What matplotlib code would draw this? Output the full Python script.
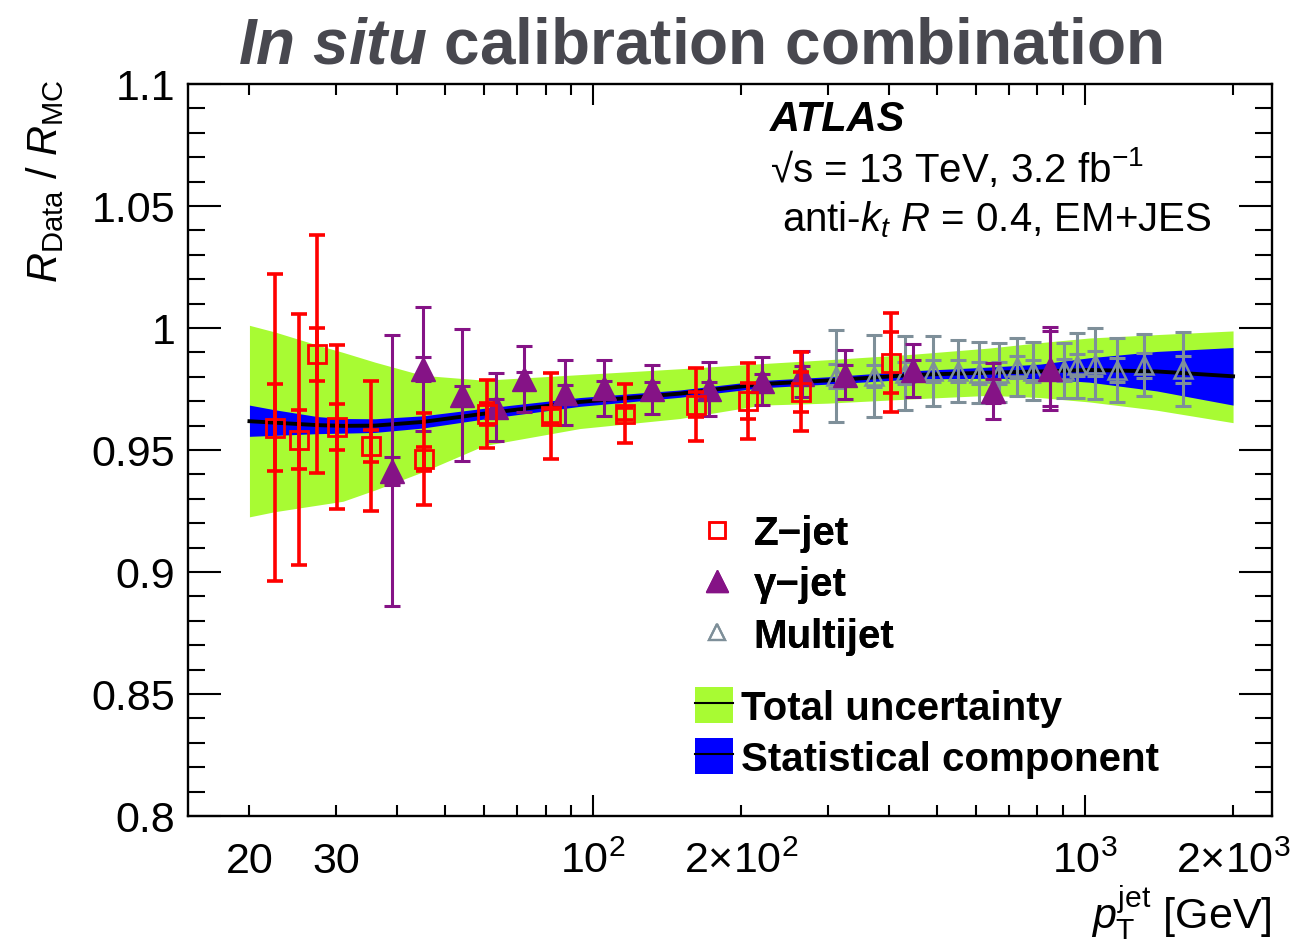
import matplotlib
matplotlib.use("Agg")
import matplotlib.pyplot as plt
import matplotlib.patches as mpatches
from matplotlib.lines import Line2D
from matplotlib.ticker import FixedLocator, FixedFormatter

plt.rcParams['font.family'] = ['Liberation Sans', 'DejaVu Sans']
plt.rcParams['mathtext.fontset'] = 'custom'
plt.rcParams['mathtext.rm'] = 'Liberation Sans'
plt.rcParams['mathtext.it'] = 'Liberation Sans:italic'
plt.rcParams['mathtext.bf'] = 'Liberation Sans:bold'
plt.rcParams['mathtext.bfit'] = 'Liberation Sans:italic:bold'
plt.rcParams['mathtext.sf'] = 'Liberation Sans'

# ---------------- data ----------------
# combined calibration band (knots)
band_pt = [20, 22.5, 27.5, 31, 36, 45, 60, 94, 150, 220, 300, 450, 640, 810, 1020, 1400, 2000]
band_central = [0.9618, 0.9612, 0.9602, 0.9599, 0.9600, 0.9615, 0.9649, 0.9697, 0.9731, 0.9770,
                0.9785, 0.9808, 0.9817, 0.9822, 0.9828, 0.9822, 0.9802]
total_hi = [1.0011, 0.9984, 0.9930, 0.9900, 0.9860, 0.9806, 0.9786, 0.9809, 0.9833, 0.9854,
            0.9870, 0.9893, 0.9918, 0.9940, 0.9959, 0.9973, 0.9988]
total_lo = [0.9226, 0.9247, 0.9274, 0.9290, 0.9336, 0.9410, 0.9518, 0.9588, 0.9629, 0.9684,
            0.9692, 0.9710, 0.9724, 0.9715, 0.9697, 0.9663, 0.9612]
stat_hi = [0.9684, 0.9665, 0.9637, 0.9629, 0.9628, 0.9640, 0.9671, 0.9715, 0.9746, 0.9785,
           0.9800, 0.9825, 0.9840, 0.9852, 0.9878, 0.9904, 0.9920]
stat_lo = [0.9556, 0.9560, 0.9567, 0.9569, 0.9572, 0.9590, 0.9627, 0.9679, 0.9716, 0.9755,
           0.9770, 0.9791, 0.9794, 0.9792, 0.9778, 0.9742, 0.9684]

# Z-jet
zjet_pt = [22.5, 25.2, 27.5, 30.1, 35.3, 45.3, 60.9, 82.2, 115.8, 161.6, 206.5, 264.2, 403.6]
zjet_val = [0.9592, 0.9543, 0.9892, 0.9594, 0.9516, 0.9462, 0.9649, 0.9640, 0.9649, 0.9686,
            0.9701, 0.9738, 0.9858]
zjet_stat = [0.0177, 0.0120, 0.0110, 0.0093, 0.0064, 0.0049, 0.0045, 0.0030, 0.0025, 0.0050,
             0.0072, 0.0083, 0.0125]
zjet_tot = [0.0630, 0.0515, 0.0488, 0.0336, 0.0266, 0.0188, 0.0139, 0.0176, 0.0122, 0.0149,
            0.0157, 0.0162, 0.0203]

# gamma-jet
gjet_pt = [38.9, 45.1, 54.2, 63.5, 72.4, 87.5, 105.4, 131.5, 171.9, 220.4, 266.2, 324.4,
           447.7, 648.9, 849.0]
gjet_val = [0.9415, 0.9833, 0.9724, 0.9677, 0.9790, 0.9735, 0.9754, 0.9749, 0.9749, 0.9782,
            0.9813, 0.9809, 0.9827, 0.9741, 0.9833]
gjet_stat = [0.0057, 0.0050, 0.0040, 0.0030, 0.0030, 0.0030, 0.0030, 0.0030, 0.0030, 0.0030,
             0.0030, 0.0040, 0.0040, 0.0050, 0.0154]
gjet_tot = [0.0556, 0.0254, 0.0271, 0.0140, 0.0135, 0.0134, 0.0114, 0.0100, 0.0110, 0.0099,
            0.0094, 0.0102, 0.0109, 0.0115, 0.0171]

# multijet
mjet_pt = [311, 371.5, 431.5, 489.8, 550.8, 609.7, 667, 729, 785, 905, 964, 1048, 1163, 1317, 1580]
mjet_val = [0.9804, 0.9804, 0.9817, 0.9823, 0.9823, 0.9817, 0.9817, 0.9840, 0.9824, 0.9827,
            0.9847, 0.9854, 0.9827, 0.9847, 0.9831]
mjet_stat = [0.0050, 0.0045, 0.0045, 0.0045, 0.0045, 0.0045, 0.0045, 0.0045, 0.0045, 0.0045,
             0.0045, 0.0050, 0.0050, 0.0050, 0.0055]
mjet_tot = [0.0189, 0.0168, 0.0152, 0.0143, 0.0128, 0.0124, 0.0120, 0.0120, 0.0120, 0.0113,
            0.0132, 0.0147, 0.0130, 0.0127, 0.0151]

y_ticks = [0.8, 0.85, 0.9, 0.95, 1.0, 1.05, 1.1]
y_ticklabels = ["0.8", "0.85", "0.9", "0.95", "1", "1.05", "1.1"]
x_major = [100, 1000]
x_major_labels = [r"$10^{2}$", r"$10^{3}$"]
x_minor = [20, 30, 40, 50, 60, 70, 80, 90, 200, 300, 400, 500, 600, 700, 800, 900, 2000]
x_minor_labels = ["20", "30", "", "", "", "", "", "", r"$2{\times}10^{2}$", "", "", "", "", "",
                  "", "", r"$2{\times}10^{3}$"]

# ---------------- style ----------------
C_GREEN = '#a8fb33'
C_BLUE = '#0000ff'
C_RED = '#ff0000'
C_PURPLE = '#851386'
C_GRAY = '#7e8f99'

fig = plt.figure(figsize=(12.92, 9.45), dpi=100)
ax = fig.add_axes([188 / 1292, 1 - 817 / 945, (1272 - 188) / 1292, (817 - 85) / 945])

ax.fill_between(band_pt, total_lo, total_hi, color=C_GREEN, lw=0, zorder=1)
ax.fill_between(band_pt, stat_lo, stat_hi, color=C_BLUE, lw=0, zorder=2)
ax.plot(band_pt, band_central, color='black', lw=2.8, zorder=3)


def draw_series(x, y, stat, tot, color, marker, ms, mfc, mew, elw, z):
    ax.errorbar(x, y, yerr=tot, fmt='none', ecolor=color, elinewidth=elw, capsize=6,
                capthick=elw, zorder=z)
    ax.errorbar(x, y, yerr=stat, fmt='none', ecolor=color, elinewidth=elw, capsize=6,
                capthick=elw, zorder=z)
    ax.plot(x, y, linestyle='none', marker=marker, ms=ms, mfc=mfc, mec=color, mew=mew,
            zorder=z + 0.1)


draw_series(mjet_pt, mjet_val, mjet_stat, mjet_tot, C_GRAY, '^', 13, 'none', 1.8, 2.2, 4)
draw_series(gjet_pt, gjet_val, gjet_stat, gjet_tot, C_PURPLE, '^', 17, C_PURPLE, 1.0, 2.2, 5)
draw_series(zjet_pt, zjet_val, zjet_stat, zjet_tot, C_RED, 's', 13.5, 'none', 2.0, 2.6, 6)

ax.set_xscale('log')
ax.set_xlim(15, 2400)
ax.set_ylim(0.8, 1.1)

ax.yaxis.set_major_locator(FixedLocator(y_ticks))
ax.yaxis.set_major_formatter(FixedFormatter(y_ticklabels))
ax.yaxis.set_minor_locator(FixedLocator([0.8 + 0.01 * i for i in range(31)]))

ax.xaxis.set_major_locator(FixedLocator(x_major))
ax.xaxis.set_major_formatter(FixedFormatter(x_major_labels))
ax.xaxis.set_minor_locator(FixedLocator(x_minor))
ax.xaxis.set_minor_formatter(FixedFormatter(x_minor_labels))

for side in ax.spines.values():
    side.set_linewidth(1.7)

ax.tick_params(axis='both', which='both', direction='in', top=True, right=True, width=1.5)
ax.tick_params(axis='y', which='major', length=24, labelsize=31, pad=9)
ax.tick_params(axis='y', which='minor', length=12)
ax.tick_params(axis='x', which='major', length=15, labelsize=31, pad=18)
ax.tick_params(axis='x', which='minor', length=8, labelsize=31, pad=18)

ax.set_xlabel(r"$p_{\mathrm{T}}^{\mathrm{jet}}$ [GeV]", fontsize=31, ha='right', va='top')
ax.xaxis.set_label_coords(1.0, -0.093)
ax.set_ylabel(r"$R_{\mathrm{Data}}$ / $R_{\mathrm{MC}}$", fontsize=30, ha='right', va='center')
ax.yaxis.set_label_coords(-0.132, 1.008)

fig.text(700 / 1292, 1 - 46 / 945, r"$\mathbfit{In\ situ}$ calibration combination",
         fontsize=46, fontweight='bold', color='#48484f', ha='center', va='center')

ax.text(0.537, 0.937, "ATLAS", transform=ax.transAxes, fontsize=30, fontweight='bold',
        fontstyle='italic', va='baseline', ha='left')
ax.text(0.537, 0.8677, "√s = 13 TeV, 3.2 fb$^{-1}$", transform=ax.transAxes, fontsize=29,
        va='baseline', ha='left')
ax.text(0.548, 0.7995, r"anti-$k_{t}$ $R$ = 0.4, EM+JES", transform=ax.transAxes, fontsize=29,
        va='baseline', ha='left')

# legends
leg_font = {'family': 'Liberation Sans', 'weight': 'bold', 'size': 29}
h1 = [Line2D([], [], linestyle='none', marker='s', ms=12, mfc='none', mec=C_RED, mew=1.8),
      Line2D([], [], linestyle='none', marker='^', ms=16, mfc=C_PURPLE, mec=C_PURPLE, mew=1.0),
      Line2D([], [], linestyle='none', marker='^', ms=12, mfc='none', mec=C_GRAY, mew=1.6)]
leg1 = fig.legend(h1, ["Z\u2212jet", "\u03b3\u2212jet", "Multijet"], loc='upper left',
                  bbox_to_anchor=(697 / 1292, 1 - 515 / 945), frameon=False, prop=leg_font,
                  borderpad=0, borderaxespad=0, handlelength=1.0, handletextpad=0.4,
                  labelspacing=0.33)

h2 = [(mpatches.Patch(facecolor=C_GREEN, edgecolor='none'), Line2D([], [], color='black', lw=1.5)),
      (mpatches.Patch(facecolor=C_BLUE, edgecolor='none'), Line2D([], [], color='black', lw=1.5))]
leg2 = fig.legend(h2, ["Total uncertainty", "Statistical component"], loc='upper left',
                  bbox_to_anchor=(695 / 1292, 1 - 688 / 945), frameon=False, prop=leg_font,
                  borderpad=0, borderaxespad=0, handlelength=0.95, handleheight=1.0,
                  handletextpad=0.18, labelspacing=0.28)
fig.add_artist(leg1)

fig.savefig('out.png', dpi=100)
